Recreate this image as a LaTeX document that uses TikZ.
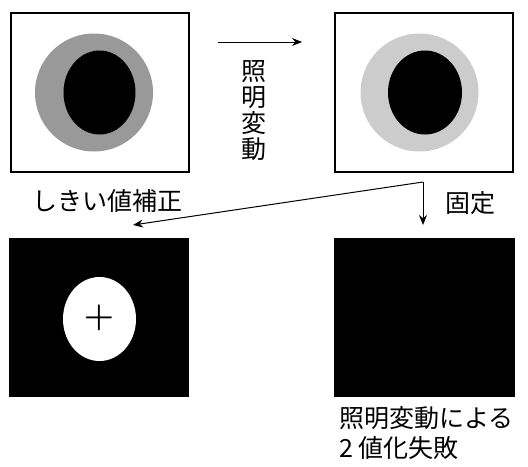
\documentclass[tikz,border=0pt]{standalone}
\usepackage{fontspec}
\setmainfont{Noto Sans CJK JP}
\usetikzlibrary{arrows.meta, positioning, calc}
\definecolor{RingDark}{gray}{0.6}
\definecolor{RingLight}{gray}{0.8}
\tikzset{
    % Image frames
    photo/.style={
        rectangle,
        draw=black,
        line width=1pt,
        fill=white,
        minimum width=89pt,
        minimum height=79.5pt,
        inner sep=0pt
    },
    photo binary/.style={
        rectangle,
        fill=black,
        minimum width=90pt,
        minimum height=79.5pt,
        inner sep=0pt
    },
    caption/.style={
        inner sep=0pt,
        font=\fontsize{12.5}{15}\selectfont
    },
    arrow style/.style={
        -{Stealth[length=5pt, width=4pt]},
        line width=0.5pt,
        black
    }
}

\begin{document}
\begin{tikzpicture}[x=0.5pt, y=-0.5pt]
    \useasboundingbox (0,0) rectangle (528,466);

    % Input images
    \node[photo] (before) at (99.5,92.5) {};
    \node[photo] (after) at (424,92.5) {};
    \fill[RingDark] ($(before.center)+(-5.5,0)$) circle[radius=59];
    \fill[black] (before.center) ellipse[x radius=36, y radius=42];
    \fill[RingLight] ($(after.center)+(-4.5,0)$) circle[radius=59];
    \fill[black] ($(after.center)+(1,0)$) ellipse[x radius=37, y radius=42];

    % Binarised images
    \node[photo binary] (corrected) at (99,317.5) {};
    \node[photo binary, minimum width=90.5pt] (fixed) at (424.5,317.5) {};
    \fill[white] ($(corrected.center)+(0.5,1.5)$) ellipse[x radius=36.5, y radius=42];
    \node[font=\boldmath\fontsize{16}{16}\selectfont, inner sep=0pt] (centroid) at ($(corrected.center)+(0,0.5)$) {$+$};

    % Labels
    \node[caption, align=center, font=\fontsize{12.5}{13}\selectfont] (shiftlabel) at (254,111) {照\\明\\変\\動};
    \node[caption] (adaptlabel) at (107,201) {しきい値補正};
    \node[caption] (fixlabel) at (470,203) {固定};
    \node[caption, align=left, anchor=west] (faillabel) at (339,433) {照明変動による\\2 値化失敗};

    % Arrows
    \coordinate (shiftstart) at (218,42);
    \coordinate (shiftend) at (302,42);
    \coordinate (split) at ($(after.south)+(-1,9)$);
    \coordinate (toleft) at (133,225);
    \coordinate (todown) at (split |- toleft);
    \draw[arrow style] (shiftstart) -- (shiftend);
    \draw[arrow style] (split) -- (toleft);
    \draw[arrow style] (split) -- (todown);
\end{tikzpicture}
\end{document}
